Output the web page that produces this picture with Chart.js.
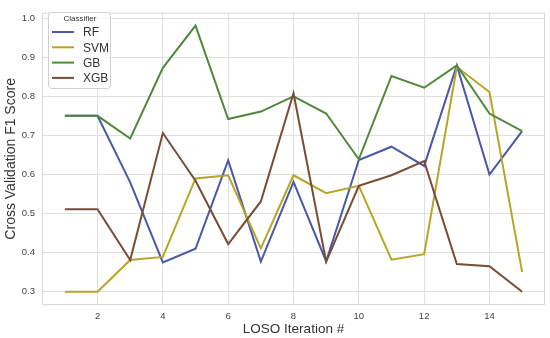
<!DOCTYPE html>
<html><head><meta charset="utf-8">
<script src="https://cdn.jsdelivr.net/npm/chart.js@4/dist/chart.umd.min.js"></script>
<style>html,body{margin:0;padding:0;background:#fff}#wrap{width:550px;height:338px;position:relative}</style>
</head><body><div id="wrap"><canvas id="c" width="550" height="338"></canvas></div>
<script>
const iterations = [1,2,3,4,5,6,7,8,9,10,11,12,13,14,15];
const rf  = [0.75,0.75,0.58,0.375,0.41,0.636,0.377,0.581,0.378,0.637,0.671,0.622,0.879,0.60,0.711];
const svm = [0.30,0.30,0.381,0.389,0.59,0.598,0.411,0.598,0.552,0.571,0.382,0.396,0.875,0.811,0.35];
const gb  = [0.75,0.75,0.692,0.873,0.981,0.742,0.761,0.80,0.756,0.639,0.852,0.822,0.879,0.756,0.711];
const xgb = [0.511,0.511,0.381,0.706,0.584,0.422,0.531,0.808,0.377,0.571,0.598,0.634,0.371,0.365,0.30];
const xTicks = [2,4,6,8,10,12,14];
const yTicks = [0.3,0.4,0.5,0.6,0.7,0.8,0.9,1.0];
const seriesNames = ['RF','SVM','GB','XGB'];
const colors = ['#4a59a7','#b8a527','#4f8a3b','#7b4b34'];
const seriesData = [rf,svm,gb,xgb];

const datasets = seriesNames.map((n,i)=>({
  label:n,
  data: iterations.map((x,j)=>({x:x,y:seriesData[i][j]})),
  borderColor:colors[i], backgroundColor:colors[i],
  borderWidth:2, pointRadius:0, tension:0, fill:false,
  order: seriesNames.length - i
}));

const frame = {
  id:'frame',
  afterDraw(chart){
    const {ctx, chartArea:a} = chart;
    ctx.save();
    ctx.strokeStyle='#d8d8d8'; ctx.lineWidth=1;
    ctx.strokeRect(a.left+0.5,a.top+0.5,a.right-a.left-1,a.bottom-a.top-1);
    // legend
    const lx=48, ly=12, lw=62, lh=76;
    ctx.fillStyle='rgba(255,255,255,0.85)';
    ctx.strokeStyle='#d0d0d0';
    ctx.beginPath();
    if (ctx.roundRect) ctx.roundRect(lx+0.5,ly+0.5,lw,lh,3); else ctx.rect(lx+0.5,ly+0.5,lw,lh);
    ctx.fill(); ctx.stroke();
    ctx.fillStyle='#333';
    ctx.font='8px "Liberation Sans", Arial, sans-serif';
    ctx.textAlign='center'; ctx.textBaseline='middle';
    ctx.fillText('Classifier', lx+lw/2+1, ly+7);
    ctx.font='12px "Liberation Sans", Arial, sans-serif';
    ctx.textAlign='left';
    seriesNames.forEach((n,i)=>{
      const yy = ly+20+i*15.3;
      ctx.strokeStyle=colors[i]; ctx.lineWidth=2;
      ctx.beginPath(); ctx.moveTo(lx+4,yy); ctx.lineTo(lx+26,yy); ctx.stroke();
      ctx.fillStyle='#333';
      ctx.fillText(n, lx+35, yy+1);
    });
    ctx.restore();
  }
};

new Chart(document.getElementById('c'),{
  type:'line',
  data:{datasets},
  options:{
    responsive:false, animation:false,
    layout:{padding:{top:6,right:5,left:3,bottom:0}},
    plugins:{legend:{display:false},tooltip:{enabled:false}},
    scales:{
      x:{type:'linear',min:0.3,max:15.7,
        afterBuildTicks(s){s.ticks=xTicks.map(v=>({value:v}));},
        afterFit(s){s.height=33;},
        grid:{color:'#e0e0e0',lineWidth:1,drawTicks:false},
        border:{display:false},
        ticks:{color:'#444',font:{size:9.5,family:'"Liberation Sans", Arial, sans-serif'},padding:6,maxRotation:0,callback:v=>String(v)},
        title:{display:true,text:'LOSO Iteration #',color:'#333',font:{size:13.5,family:'"Liberation Sans", Arial, sans-serif'},padding:{top:0,bottom:1}}
      },
      y:{type:'linear',min:0.266,max:1.014,
        afterBuildTicks(s){s.ticks=yTicks.map(v=>({value:v}));},
        afterFit(s){s.width=39;},
        grid:{color:'#e0e0e0',lineWidth:1,drawTicks:false},
        border:{display:false},
        ticks:{color:'#444',font:{size:9.5,family:'"Liberation Sans", Arial, sans-serif'},padding:7,callback:v=>v.toFixed(1)},
        title:{display:true,text:'Cross Validation F1 Score',color:'#333',font:{size:14,family:'"Liberation Sans", Arial, sans-serif'},padding:{top:0,bottom:2}}
      }
    }
  },
  plugins:[frame]
});
</script></body></html>
